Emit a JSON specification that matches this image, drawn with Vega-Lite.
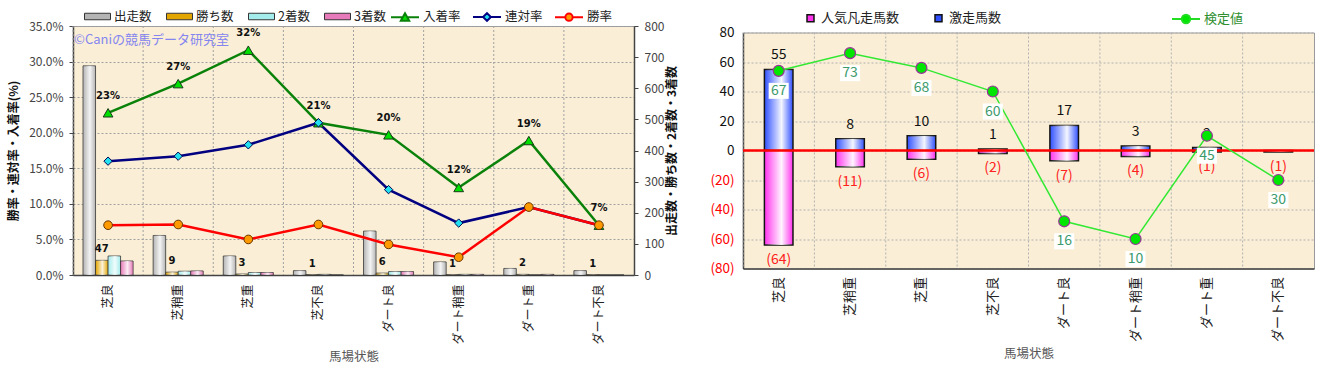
{
 "$schema": "https://vega.github.io/schema/vega-lite/v6.json",
 "background": "#ffffff",
 "padding": {"left": 7, "top": 1, "right": 5, "bottom": 5},
 "spacing": 109,
 "bounds": "flush",
 "center": true,
 "resolve": {
  "scale": {"color": "independent", "fill": "independent", "stroke": "independent", "shape": "independent", "y": "independent"},
  "legend": {"color": "independent", "fill": "independent", "stroke": "independent", "shape": "independent"}
 },
 "datasets": {
  "cats": [{"cat": "芝良"}, {"cat": "芝稍重"}, {"cat": "芝重"}, {"cat": "芝不良"}, {"cat": "ダート良"}, {"cat": "ダート稍重"}, {"cat": "ダート重"}, {"cat": "ダート不良"}],
  "leftBars": [
   {"cat": "芝良", "series": "出走数", "value": 672}, {"cat": "芝良", "series": "勝ち数", "value": 47}, {"cat": "芝良", "series": "2着数", "value": 61}, {"cat": "芝良", "series": "3着数", "value": 45},
   {"cat": "芝稍重", "series": "出走数", "value": 127}, {"cat": "芝稍重", "series": "勝ち数", "value": 9}, {"cat": "芝稍重", "series": "2着数", "value": 12}, {"cat": "芝稍重", "series": "3着数", "value": 13},
   {"cat": "芝重", "series": "出走数", "value": 61}, {"cat": "芝重", "series": "勝ち数", "value": 3}, {"cat": "芝重", "series": "2着数", "value": 8}, {"cat": "芝重", "series": "3着数", "value": 8},
   {"cat": "芝不良", "series": "出走数", "value": 14}, {"cat": "芝不良", "series": "勝ち数", "value": 1}, {"cat": "芝不良", "series": "2着数", "value": 2}, {"cat": "芝不良", "series": "3着数", "value": 0},
   {"cat": "ダート良", "series": "出走数", "value": 141}, {"cat": "ダート良", "series": "勝ち数", "value": 6}, {"cat": "ダート良", "series": "2着数", "value": 11}, {"cat": "ダート良", "series": "3着数", "value": 11},
   {"cat": "ダート稍重", "series": "出走数", "value": 42}, {"cat": "ダート稍重", "series": "勝ち数", "value": 1}, {"cat": "ダート稍重", "series": "2着数", "value": 2}, {"cat": "ダート稍重", "series": "3着数", "value": 2},
   {"cat": "ダート重", "series": "出走数", "value": 21}, {"cat": "ダート重", "series": "勝ち数", "value": 2}, {"cat": "ダート重", "series": "2着数", "value": 0}, {"cat": "ダート重", "series": "3着数", "value": 2},
   {"cat": "ダート不良", "series": "出走数", "value": 14}, {"cat": "ダート不良", "series": "勝ち数", "value": 1}, {"cat": "ダート不良", "series": "2着数", "value": 0}, {"cat": "ダート不良", "series": "3着数", "value": 0}
  ],
  "leftRates": [
   {"cat": "芝良", "series": "入着率", "rate": 0.228}, {"cat": "芝稍重", "series": "入着率", "rate": 0.269}, {"cat": "芝重", "series": "入着率", "rate": 0.316}, {"cat": "芝不良", "series": "入着率", "rate": 0.214},
   {"cat": "ダート良", "series": "入着率", "rate": 0.197}, {"cat": "ダート稍重", "series": "入着率", "rate": 0.123}, {"cat": "ダート重", "series": "入着率", "rate": 0.189}, {"cat": "ダート不良", "series": "入着率", "rate": 0.07},
   {"cat": "芝良", "series": "連対率", "rate": 0.16}, {"cat": "芝稍重", "series": "連対率", "rate": 0.167}, {"cat": "芝重", "series": "連対率", "rate": 0.183}, {"cat": "芝不良", "series": "連対率", "rate": 0.214},
   {"cat": "ダート良", "series": "連対率", "rate": 0.12}, {"cat": "ダート稍重", "series": "連対率", "rate": 0.073}, {"cat": "ダート重", "series": "連対率", "rate": 0.0955}, {"cat": "ダート不良", "series": "連対率", "rate": 0.07},
   {"cat": "芝良", "series": "勝率", "rate": 0.07}, {"cat": "芝稍重", "series": "勝率", "rate": 0.071}, {"cat": "芝重", "series": "勝率", "rate": 0.05}, {"cat": "芝不良", "series": "勝率", "rate": 0.071},
   {"cat": "ダート良", "series": "勝率", "rate": 0.043}, {"cat": "ダート稍重", "series": "勝率", "rate": 0.025}, {"cat": "ダート重", "series": "勝率", "rate": 0.0955}, {"cat": "ダート不良", "series": "勝率", "rate": 0.07}
  ],
  "rightBars": [
   {"cat": "芝良", "series": "激走馬数", "value": 55}, {"cat": "芝稍重", "series": "激走馬数", "value": 8}, {"cat": "芝重", "series": "激走馬数", "value": 10}, {"cat": "芝不良", "series": "激走馬数", "value": 1},
   {"cat": "ダート良", "series": "激走馬数", "value": 17}, {"cat": "ダート稍重", "series": "激走馬数", "value": 3}, {"cat": "ダート重", "series": "激走馬数", "value": 2},
   {"cat": "芝良", "series": "人気凡走馬数", "value": -64}, {"cat": "芝稍重", "series": "人気凡走馬数", "value": -11}, {"cat": "芝重", "series": "人気凡走馬数", "value": -6}, {"cat": "芝不良", "series": "人気凡走馬数", "value": -2},
   {"cat": "ダート良", "series": "人気凡走馬数", "value": -7}, {"cat": "ダート稍重", "series": "人気凡走馬数", "value": -4}, {"cat": "ダート重", "series": "人気凡走馬数", "value": -1}, {"cat": "ダート不良", "series": "人気凡走馬数", "value": -1}
  ],
  "kentei": [
   {"cat": "芝良", "value": 67}, {"cat": "芝稍重", "value": 73}, {"cat": "芝重", "value": 68}, {"cat": "芝不良", "value": 60},
   {"cat": "ダート良", "value": 16}, {"cat": "ダート稍重", "value": 10}, {"cat": "ダート重", "value": 45}, {"cat": "ダート不良", "value": 30}
  ]
 },
 "hconcat": [
  {
   "width": 561,
   "height": 249,
   "resolve": {"scale": {"y": "independent"}},
   "layer": [
    {
     "data": {"name": "cats"},
     "mark": {"type": "rule", "stroke": "#a0a0a0", "strokeDash": [2, 2], "strokeWidth": 1},
     "encoding": {
      "x": {"field": "cat", "type": "nominal", "bandPosition": 0, "scale": {"domain": ["芝良", "芝稍重", "芝重", "芝不良", "ダート良", "ダート稍重", "ダート重", "ダート不良"], "paddingInner": 0, "paddingOuter": 0}, "axis": {"title": "馬場状態", "labelFontSize": 12}}
     }
    },
    {
     "data": {"name": "leftBars"},
     "encoding": {
      "x": {"field": "cat", "type": "nominal", "scale": {"domain": ["芝良", "芝稍重", "芝重", "芝不良", "ダート良", "ダート稍重", "ダート重", "ダート不良"], "paddingInner": 0, "paddingOuter": 0}, "axis": {"title": "馬場状態", "labelFontSize": 12}},
      "xOffset": {"field": "series", "type": "nominal", "scale": {"domain": ["出走数", "勝ち数", "2着数", "3着数"], "paddingInner": 0, "paddingOuter": 0.8}},
      "y": {"field": "value", "type": "quantitative", "stack": null, "scale": {"domain": [0, 800], "nice": false},
       "axis": {"orient": "right", "values": [0, 100, 200, 300, 400, 500, 600, 700, 800], "labelOverlap": false, "title": "出走数・勝ち数・2着数・3着数", "titleAngle": 270, "titleBaseline": "top", "titleFontWeight": "bold", "titleFontSize": 12, "titleColor": "#111111", "titlePadding": 3, "labelFontSize": 12, "labelColor": "#444444", "labelPadding": 6, "grid": false, "tickSize": 4, "tickColor": "#444444", "domainColor": "#444444", "domainWidth": 1.5}}
     },
     "layer": [
      {
       "mark": {"type": "bar", "stroke": "#333333", "strokeWidth": 0.8},
       "encoding": {
        "color": {"field": "series", "type": "nominal", "scale": {"domain": ["出走数", "勝ち数", "2着数", "3着数"], "range": ["#b4b4b4", "#e3a600", "#a4ecec", "#e77ab8"]},
         "legend": {"title": null, "orient": "none", "legendX": 11, "legendY": -23, "direction": "horizontal", "symbolType": "M-1,-0.25H1V0.25H-1Z", "symbolSize": 676, "symbolStrokeColor": "#333333", "symbolStrokeWidth": 1, "labelFontSize": 12.5, "labelOffset": 3, "columnPadding": 12}}
       }
      },
      {
       "mark": {"type": "bar", "color": {"gradient": "linear", "x1": 0, "y1": 0, "x2": 1, "y2": 0, "stops": [{"offset": 0, "color": "rgba(255,255,255,0)"}, {"offset": 0.55, "color": "rgba(255,255,255,0.85)"}, {"offset": 1, "color": "rgba(255,255,255,0)"}]}}
      },
      {
       "transform": [{"filter": "datum.series === '勝ち数'"}],
       "mark": {"type": "text", "dy": -11, "fontSize": 10, "fontWeight": "bold", "font": "DejaVu Sans", "color": "#111111"},
       "encoding": {"text": {"field": "value", "type": "quantitative"}}
      }
     ]
    },
    {
     "data": {"name": "leftRates"},
     "encoding": {
      "x": {"field": "cat", "type": "nominal", "scale": {"domain": ["芝良", "芝稍重", "芝重", "芝不良", "ダート良", "ダート稍重", "ダート重", "ダート不良"], "paddingInner": 0, "paddingOuter": 0}, "axis": {"title": "馬場状態", "labelFontSize": 12}},
      "y": {"field": "rate", "type": "quantitative", "scale": {"domain": [0, 0.35], "nice": false},
       "axis": {"orient": "left", "values": [0, 0.05, 0.1, 0.15, 0.2, 0.25, 0.3, 0.35], "labelOverlap": false, "format": ".1%", "title": "勝率・連対率・入着率(%)", "titleFontWeight": "bold", "titleFontSize": 12, "titleColor": "#111111", "titlePadding": 8, "labelFontSize": 12, "labelColor": "#444444", "labelPadding": 6, "grid": true, "gridDash": [2, 2], "gridColor": "#a0a0a0", "tickSize": 4, "tickColor": "#444444", "domainColor": "#444444", "domainWidth": 1.5}}
     },
     "layer": [
      {
       "transform": [{"filter": "datum.series === '入着率' && datum.cat === '芝良'"}],
       "mark": {"type": "text", "text": "©Caniの競馬データ研究室", "align": "left", "baseline": "middle", "dx": -34, "fontSize": 13, "color": "#8585f0"},
       "encoding": {"y": {"datum": 0.33}}
      },
      {
       "transform": [{"filter": "datum.series === '入着率'"}],
       "mark": {"type": "line", "strokeWidth": 2.5, "color": "#0a820a"}
      },
      {
       "transform": [{"filter": "datum.series === '連対率'"}],
       "mark": {"type": "line", "strokeWidth": 2.5, "color": "#000080"}
      },
      {
       "transform": [{"filter": "datum.series === '勝率'"}],
       "mark": {"type": "line", "strokeWidth": 2.5, "color": "#ff0000"}
      },
      {
       "transform": [{"filter": "datum.series === '入着率'"}],
       "mark": {"type": "point", "shape": "triangle-up", "filled": true, "fill": "#00e000", "stroke": "#1a3a1a", "strokeWidth": 1, "size": 95, "opacity": 1}
      },
      {
       "transform": [{"filter": "datum.series === '連対率'"}],
       "mark": {"type": "point", "shape": "diamond", "filled": true, "fill": "#22e0f0", "stroke": "#000050", "strokeWidth": 1, "size": 70, "opacity": 1}
      },
      {
       "transform": [{"filter": "datum.series === '勝率'"}],
       "mark": {"type": "point", "shape": "circle", "filled": true, "fill": "#ff9900", "stroke": "#663300", "strokeWidth": 1, "size": 75, "opacity": 1}
      },
      {
       "mark": {"type": "point", "filled": true, "size": 0, "opacity": 1},
       "encoding": {
        "shape": {"field": "series", "type": "nominal", "scale": {"domain": ["入着率", "連対率", "勝率"], "range": ["M-1,0H-0.16M0.16,0H1M-0.3,0.26L0,-0.28L0.3,0.26Z", "M-1,0H-0.28M0.28,0H1M0,-0.28L0.28,0L0,0.28L-0.28,0Z", "M-1,0H-0.26M0.26,0H1M-0.26,0A0.26,0.26,0,1,0,0.26,0A0.26,0.26,0,1,0,-0.26,0Z"]},
         "legend": {"title": null, "orient": "none", "legendX": 317, "legendY": -24, "direction": "horizontal", "symbolSize": 784, "symbolStrokeWidth": 2, "symbolOpacity": 1, "labelFontSize": 12.5, "labelOffset": 3, "columnPadding": 8}},
        "fill": {"field": "series", "type": "nominal", "scale": {"domain": ["入着率", "連対率", "勝率"], "range": ["#00e000", "#22e0f0", "#ff9900"]},
         "legend": {"title": null, "orient": "none", "legendX": 317, "legendY": -24, "direction": "horizontal", "symbolSize": 784, "symbolStrokeWidth": 2, "symbolOpacity": 1, "labelFontSize": 12.5, "labelOffset": 3, "columnPadding": 8}},
        "stroke": {"field": "series", "type": "nominal", "scale": {"domain": ["入着率", "連対率", "勝率"], "range": ["#0a820a", "#000080", "#ff0000"]},
         "legend": {"title": null, "orient": "none", "legendX": 317, "legendY": -24, "direction": "horizontal", "symbolSize": 784, "symbolStrokeWidth": 2, "symbolOpacity": 1, "labelFontSize": 12.5, "labelOffset": 3, "columnPadding": 8}}
       }
      },
      {
       "transform": [{"filter": "datum.series === '入着率'"}],
       "mark": {"type": "text", "dy": -17, "fontSize": 10, "fontWeight": "bold", "font": "DejaVu Sans", "color": "#111111"},
       "encoding": {"text": {"field": "rate", "type": "quantitative", "format": ".0%"}}
      }
     ]
    }
   ]
  },
  {
   "width": 571,
   "height": 236,
   "resolve": {"scale": {"y": "independent"}},
   "layer": [
    {
     "data": {"name": "cats"},
     "mark": {"type": "rule", "stroke": "#b0b0b0", "strokeDash": [2, 2], "strokeWidth": 1},
     "encoding": {
      "x": {"field": "cat", "type": "nominal", "bandPosition": 0, "scale": {"domain": ["芝良", "芝稍重", "芝重", "芝不良", "ダート良", "ダート稍重", "ダート重", "ダート不良"], "paddingInner": 0, "paddingOuter": 0}, "axis": {"title": "馬場状態", "labelFontSize": 13, "labelPadding": 8}}
     }
    },
    {
     "data": {"name": "rightBars"},
     "encoding": {
      "x": {"field": "cat", "type": "nominal", "scale": {"domain": ["芝良", "芝稍重", "芝重", "芝不良", "ダート良", "ダート稍重", "ダート重", "ダート不良"], "paddingInner": 0, "paddingOuter": 0}, "axis": {"title": "馬場状態", "labelFontSize": 13, "labelPadding": 8}},
      "y": {"field": "value", "type": "quantitative", "stack": null, "scale": {"domain": [-80, 80], "nice": false},
       "axis": {"orient": "left", "values": [-80, -60, -40, -20, 0, 20, 40, 60, 80], "labelOverlap": false, "labelExpr": "datum.value < 0 ? '(' + abs(datum.value) + ')' : datum.label", "labelColor": {"condition": {"test": "datum.value < 0", "value": "#ff0000"}, "value": "#111111"}, "labelFontSize": 13.5, "labelPadding": 9, "title": null, "grid": true, "gridDash": [2, 2], "gridColor": "#b0b0b0", "ticks": false, "domainColor": "#444444", "domainWidth": 1.5}}
     },
     "layer": [
      {
       "mark": {"type": "bar", "stroke": "#111111", "strokeWidth": 1.5, "width": {"band": 0.4}},
       "encoding": {
        "color": {"field": "series", "type": "nominal", "scale": {"domain": ["人気凡走馬数", "激走馬数"], "range": ["#ff33ee", "#3050ff"]},
         "legend": {"title": null, "orient": "none", "legendX": 61, "legendY": -21, "direction": "horizontal", "symbolType": "square", "symbolSize": 49, "symbolStrokeColor": "#111111", "symbolStrokeWidth": 1.5, "labelFontSize": 13, "labelOffset": 4, "columnPadding": 32}}
       }
      },
      {
       "mark": {"type": "bar", "width": {"band": 0.4}, "color": {"gradient": "linear", "x1": 0, "y1": 0, "x2": 1, "y2": 0, "stops": [{"offset": 0, "color": "rgba(255,255,255,0)"}, {"offset": 0.6, "color": "rgba(255,255,255,0.95)"}, {"offset": 1, "color": "rgba(255,255,255,0)"}]}}
      },
      {
       "transform": [{"filter": "datum.value > 0"}],
       "mark": {"type": "text", "dy": -14, "fontSize": 14, "color": "#111111"},
       "encoding": {"text": {"field": "value", "type": "quantitative"}}
      },
      {
       "transform": [{"filter": "datum.value < 0"}],
       "mark": {"type": "text", "dy": 15, "fontSize": 14, "color": "#ff2020"},
       "encoding": {"text": {"field": "value", "type": "quantitative", "format": "(d"}}
      }
     ]
    },
    {
     "data": {"values": [{}]},
     "mark": {"type": "rule", "color": "#ff0000", "strokeWidth": 2.5},
     "encoding": {"y": {"datum": 0, "scale": {"domain": [-80, 80], "nice": false}, "axis": null}}
    },
    {
     "data": {"name": "kentei"},
     "encoding": {
      "x": {"field": "cat", "type": "nominal", "scale": {"domain": ["芝良", "芝稍重", "芝重", "芝不良", "ダート良", "ダート稍重", "ダート重", "ダート不良"], "paddingInner": 0, "paddingOuter": 0}, "axis": {"title": "馬場状態", "labelFontSize": 13, "labelPadding": 8}},
      "y": {"field": "value", "type": "quantitative", "scale": {"domain": [0, 80], "nice": false, "zero": false}, "axis": null}
     },
     "layer": [
      {"mark": {"type": "line", "color": "#33e833", "strokeWidth": 1.5}},
      {"mark": {"type": "point", "shape": "circle", "filled": true, "fill": "#00e600", "stroke": "#993399", "strokeWidth": 1.2, "size": 120, "opacity": 1}},
      {
       "mark": {"type": "point", "filled": true, "size": 0, "opacity": 1},
       "encoding": {
        "shape": {"datum": "検定値", "scale": {"range": ["M-1,0H-0.3M0.3,0H1M-0.3,0A0.3,0.3,0,1,0,0.3,0A0.3,0.3,0,1,0,-0.3,0Z"]},
         "legend": {"title": null, "orient": "none", "legendX": 428, "legendY": -28.5, "symbolSize": 784, "symbolStrokeWidth": 2, "symbolOpacity": 1, "labelFontSize": 13, "labelColor": "#2f8f2f", "labelOffset": 3}},
        "fill": {"datum": "検定値", "scale": {"range": ["#00e600"]},
         "legend": {"title": null, "orient": "none", "legendX": 428, "legendY": -28.5, "symbolSize": 784, "symbolStrokeWidth": 2, "symbolOpacity": 1, "labelFontSize": 13, "labelColor": "#2f8f2f", "labelOffset": 3}},
        "stroke": {"datum": "検定値", "scale": {"range": ["#22dd22"]},
         "legend": {"title": null, "orient": "none", "legendX": 428, "legendY": -28.5, "symbolSize": 784, "symbolStrokeWidth": 2, "symbolOpacity": 1, "labelFontSize": 13, "labelColor": "#2f8f2f", "labelOffset": 3}}
       }
      },
      {"mark": {"type": "point", "shape": "M-1,-0.8H1V0.8H-1Z", "filled": true, "fill": "#ffffff", "strokeWidth": 0, "size": 400, "yOffset": 20, "opacity": 1}},
      {
       "mark": {"type": "text", "dy": 20, "fontSize": 14, "color": "#3c9a6c"},
       "encoding": {"text": {"field": "value", "type": "quantitative"}}
      }
     ]
    }
   ]
  }
 ],
 "config": {
  "font": "Noto Sans CJK JP",
  "view": {"fill": "#faefd6", "stroke": "#999999"},
  "axis": {"labelFont": "Noto Sans CJK JP", "titleFont": "Noto Sans CJK JP"},
  "axisX": {"labelAngle": 270, "ticks": false, "grid": false, "labelPadding": 9, "domainColor": "#444444", "domainWidth": 1.5, "titleFontWeight": "normal", "titleColor": "#555555", "titleFontSize": 12.5, "titlePadding": 6, "labelColor": "#222222"},
  "legend": {"labelFont": "Noto Sans CJK JP", "labelColor": "#222222"},
  "text": {"font": "Noto Sans CJK JP"}
 }
}
